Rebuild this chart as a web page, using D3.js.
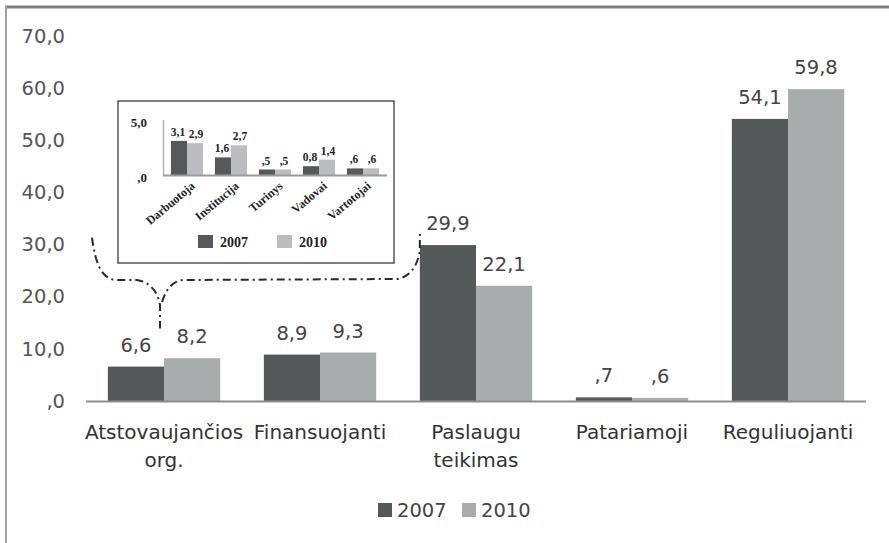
<!DOCTYPE html>
<html>
<head>
<meta charset="utf-8">
<script src="https://cdn.jsdelivr.net/npm/d3@7"></script>
<style>
    body { margin: 0; background: #fff; }
    svg { display: block; }
</style>
</head>
<body>
<script>
// ================================
// DATA
// ================================

// main chart categories (two-line labels split on "|")
var categories = [
    "Atstovaujančios|org.",
    "Finansuojanti",
    "Paslaugu|teikimas",
    "Patariamoji",
    "Reguliuojanti"
];
var years = ["2007", "2010"];
var values2007 = [6.6, 8.9, 29.9, 0.7, 54.1];
var values2010 = [8.2, 9.3, 22.1, 0.6, 59.8];
var yTicks = [0, 10, 20, 30, 40, 50, 60, 70];

// inset chart (detail of "Atstovaujančios org.")
var insetCategories = ["Darbuotoja", "Institucija", "Turinys", "Vadovai", "Vartotojai"];
var insetValues2007 = [3.1, 1.6, 0.5, 0.8, 0.6];
var insetValues2010 = [2.9, 2.7, 0.5, 1.4, 0.6];
var insetLabels2007 = ["3,1", "1,6", ",5", "0,8", ",6"];
var insetLabels2010 = ["2,9", "2,7", ",5", "1,4", ",6"];
var insetTicks = [0, 5];
var insetTickLabels = [",0", "5,0"];


// ================================
// SETUP
// ================================
var width = 889,
    height = 543;

var darkFill = "#555859",
    lightFill = "#a9acad",
    insetDark = "#57585a",
    insetLight = "#bbbcbf";

var mainFont = "'DejaVu Sans', sans-serif",
    serifFont = "'Liberation Serif', 'Times New Roman', serif";

var svg = d3.select("body")
    .append("svg")
    .attr("width", width)
    .attr("height", height);

// frame (top + left edges only are visible)
svg.append("line")
    .attr("x1", 5).attr("x2", width)
    .attr("y1", 7).attr("y2", 7)
    .attr("stroke", "#7f7f7f")
    .attr("stroke-width", 3);
svg.append("line")
    .attr("x1", 6).attr("x2", 6)
    .attr("y1", 6).attr("y2", height)
    .attr("stroke", "#a3a3a3")
    .attr("stroke-width", 2);

// format 10 -> "10,0", 0 -> ",0", 0.7 -> ",7"
function fmt(v){
    var s = d3.format(".1f")(v).replace(".", ",");
    return s.indexOf("0,") === 0 ? s.slice(1) : s;
}


// ================================
// MAIN CHART
// ================================
var x = d3.scaleBand()
    .domain(categories)
    .range([86, 866])
    .paddingInner(0.28)
    .paddingOuter(0.14);

var xSub = d3.scaleBand()
    .domain(years)
    .range([0, x.bandwidth()]);

var y = d3.scaleLinear()
    .domain([0, 70])
    .range([401, 36]);

// y tick labels (no axis line)
var yAxis = svg.append("g")
    .attr("transform", "translate(65,0)")
    .call(d3.axisLeft(y).tickValues(yTicks).tickSize(0).tickPadding(0).tickFormat(fmt));
yAxis.select(".domain").remove();
yAxis.selectAll("text")
    .attr("font-family", mainFont)
    .attr("font-size", 19.5)
    .attr("fill", "#555");

var rows = categories.map(function(c, i){
    return { cat: c, vals: [values2007[i], values2010[i]] };
});

var groups = svg.selectAll(".group")
    .data(rows)
    .enter()
    .append("g")
    .attr("class", "group")
    .attr("transform", function(d){ return "translate(" + x(d.cat) + ",0)"; });

groups.selectAll("rect")
    .data(function(d){ return d.vals.map(function(v, j){ return { year: years[j], v: v }; }); })
    .enter()
    .append("rect")
    .attr("x", function(d){ return xSub(d.year); })
    .attr("width", xSub.bandwidth())
    .attr("y", function(d){ return y(d.v); })
    .attr("height", function(d){ return y(0) - y(d.v); })
    .attr("fill", function(d){ return d.year === "2007" ? darkFill : lightFill; });

groups.selectAll(".val")
    .data(function(d){ return d.vals.map(function(v, j){ return { year: years[j], v: v }; }); })
    .enter()
    .append("text")
    .attr("class", "val")
    .attr("x", function(d){ return xSub(d.year) + xSub.bandwidth() / 2; })
    .attr("y", function(d){ return y(d.v) - 15; })
    .attr("text-anchor", "middle")
    .attr("font-family", mainFont)
    .attr("font-size", 19.5)
    .attr("fill", "#444")
    .text(function(d){ return fmt(d.v); });

// baseline
svg.append("line")
    .attr("x1", x.range()[0]).attr("x2", x.range()[1])
    .attr("y1", y(0) + 0.5).attr("y2", y(0) + 0.5)
    .attr("stroke", "#8c8c8c")
    .attr("stroke-width", 2);

// category labels
var catLabels = svg.selectAll(".cat")
    .data(categories)
    .enter()
    .append("text")
    .attr("class", "cat")
    .attr("text-anchor", "middle")
    .attr("font-family", mainFont)
    .attr("font-size", 20)
    .attr("fill", "#333");

catLabels.selectAll("tspan")
    .data(function(d){ return d.split("|").map(function(t){ return { t: t, c: d }; }); })
    .enter()
    .append("tspan")
    .attr("x", function(d){ return x(d.c) + x.bandwidth() / 2; })
    .attr("y", function(d, i){ return 439 + i * 28; })
    .text(function(d){ return d.t; });

// legend
var legend = svg.selectAll(".legend")
    .data(years)
    .enter()
    .append("g")
    .attr("class", "legend")
    .attr("transform", function(d, i){ return "translate(" + (378 + i * 84) + ",503)"; });

legend.append("rect")
    .attr("width", 14)
    .attr("height", 14)
    .attr("fill", function(d){ return d === "2007" ? darkFill : lightFill; });

legend.append("text")
    .attr("x", 19)
    .attr("y", 14)
    .attr("font-family", mainFont)
    .attr("font-size", 19.5)
    .attr("fill", "#444")
    .text(function(d){ return d; });


// ================================
// CALLOUT (dash-dot bracket)
// ================================
var box = { x: 118, y: 101, w: 276, h: 162 };
var lineY = box.y + box.h + 17;
var tipX = x(categories[0]) + x.bandwidth() / 2 - 4,
    rightX = x(categories[2]);

var p = d3.path();
p.moveTo(92, y(30) - 7);
p.bezierCurveTo(95, lineY - 20, 100, lineY - 2, 115, lineY);
p.lineTo(137, lineY);
p.bezierCurveTo(150, lineY + 2, tipX - 2, lineY + 12, tipX, lineY + 25);
p.lineTo(tipX, y(values2007[0]) - 38);
p.moveTo(tipX + 2, lineY + 22);
p.bezierCurveTo(tipX + 6, lineY + 10, tipX + 12, lineY, tipX + 25, lineY);
p.lineTo(rightX - 23, lineY - 1);
p.bezierCurveTo(rightX - 9, lineY - 3, rightX - 2, lineY - 15, rightX, lineY - 30);
p.lineTo(rightX, y(values2007[2]) - 14);

svg.append("path")
    .attr("d", p.toString())
    .attr("fill", "none")
    .attr("stroke", "#2a2a2a")
    .attr("stroke-width", 2)
    .attr("stroke-dasharray", "8,4,2,4");


// ================================
// INSET CHART
// ================================
var inset = svg.append("g");

inset.append("rect")
    .attr("x", box.x).attr("y", box.y)
    .attr("width", box.w).attr("height", box.h)
    .attr("fill", "#fff")
    .attr("stroke", "#555")
    .attr("stroke-width", 1.5);

var xi = d3.scaleBand()
    .domain(insetCategories)
    .range([163, 387])
    .paddingInner(0.27)
    .paddingOuter(0.18);

var xiSub = d3.scaleBand()
    .domain(years)
    .range([0, xi.bandwidth()]);

var yi = d3.scaleLinear()
    .domain([0, 5])
    .range([175, 120]);

// y axis line
inset.append("line")
    .attr("x1", 163.5).attr("x2", 163.5)
    .attr("y1", yi(5)).attr("y2", yi(0))
    .attr("stroke", "#b5b5b5")
    .attr("stroke-width", 1.5);

inset.selectAll(".itick")
    .data(insetTicks)
    .enter()
    .append("text")
    .attr("class", "itick")
    .attr("x", 147)
    .attr("y", function(d){ return yi(d) + 2; })
    .attr("dy", "0.35em")
    .attr("text-anchor", "end")
    .attr("font-family", serifFont)
    .attr("font-weight", "bold")
    .attr("font-size", 13)
    .attr("fill", "#222")
    .text(function(d, i){ return insetTickLabels[i]; });

var irows = insetCategories.map(function(c, i){
    return {
        cat: c,
        vals: [
            { year: "2007", v: insetValues2007[i], label: insetLabels2007[i] },
            { year: "2010", v: insetValues2010[i], label: insetLabels2010[i] }
        ]
    };
});

var igroups = inset.selectAll(".igroup")
    .data(irows)
    .enter()
    .append("g")
    .attr("class", "igroup")
    .attr("transform", function(d){ return "translate(" + xi(d.cat) + ",0)"; });

igroups.selectAll("rect")
    .data(function(d){ return d.vals; })
    .enter()
    .append("rect")
    .attr("x", function(d){ return xiSub(d.year); })
    .attr("width", xiSub.bandwidth())
    .attr("y", function(d){ return yi(d.v); })
    .attr("height", function(d){ return yi(0) - yi(d.v); })
    .attr("fill", function(d){ return d.year === "2007" ? insetDark : insetLight; });

igroups.selectAll("text")
    .data(function(d){ return d.vals; })
    .enter()
    .append("text")
    .attr("x", function(d, j){ return xiSub(d.year) + xiSub.bandwidth() / 2 + (j === 0 ? -1 : 1); })
    .attr("y", function(d){ return yi(d.v) - 5; })
    .attr("text-anchor", "middle")
    .attr("font-family", serifFont)
    .attr("font-weight", "bold")
    .attr("font-size", 11.5)
    .attr("fill", "#222")
    .text(function(d){ return d.label; });

// inset baseline
inset.append("line")
    .attr("x1", 163).attr("x2", 387)
    .attr("y1", yi(0) + 0.5).attr("y2", yi(0) + 0.5)
    .attr("stroke", "#9a9a9a")
    .attr("stroke-width", 2);

// rotated category labels
inset.selectAll(".icat")
    .data(insetCategories)
    .enter()
    .append("text")
    .attr("class", "icat")
    .attr("transform", function(d){
        return "translate(" + (xi(d) + xi.bandwidth() / 2 + 6) + "," + (yi(0) + 9) + ") rotate(-40)";
    })
    .attr("dy", "0.35em")
    .attr("text-anchor", "end")
    .attr("font-family", serifFont)
    .attr("font-weight", "bold")
    .attr("font-size", 12)
    .attr("fill", "#222")
    .text(function(d){ return d; });

// inset legend
var ilegend = inset.selectAll(".ilegend")
    .data(years)
    .enter()
    .append("g")
    .attr("class", "ilegend")
    .attr("transform", function(d, i){ return "translate(" + (198 + i * 79) + ",235)"; });

ilegend.append("rect")
    .attr("width", 15)
    .attr("height", 13)
    .attr("fill", function(d){ return d === "2007" ? insetDark : insetLight; });

ilegend.append("text")
    .attr("x", 22)
    .attr("y", 12)
    .attr("font-family", serifFont)
    .attr("font-weight", "bold")
    .attr("font-size", 14)
    .attr("fill", "#222")
    .text(function(d){ return d; });
</script>
</body>
</html>
